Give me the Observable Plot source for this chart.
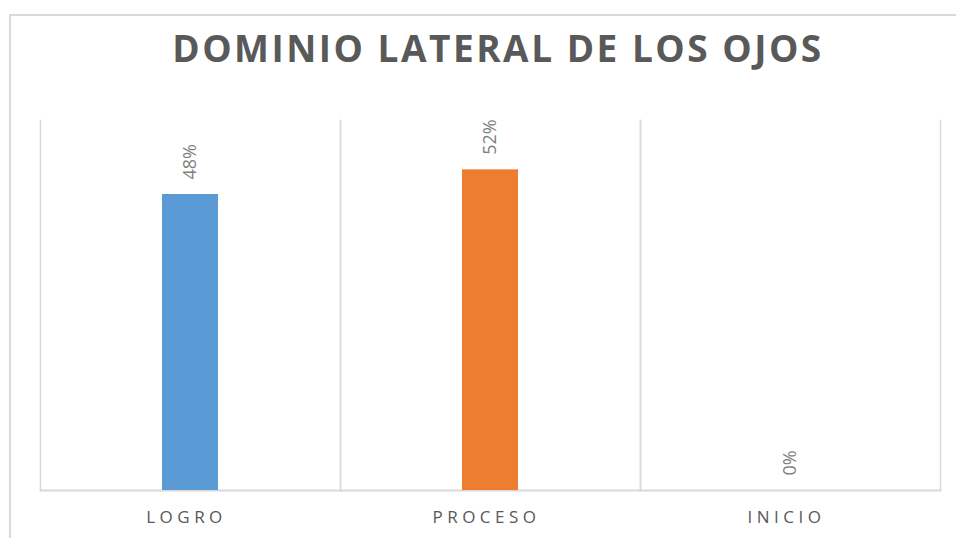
<!DOCTYPE html>
<html>
<head>
<meta charset="utf-8">
<script src="https://cdn.jsdelivr.net/npm/d3@7"></script>
<script src="https://cdn.jsdelivr.net/npm/@observablehq/plot@0.6"></script>
<style>
  html, body { margin: 0; padding: 0; background: #fff; overflow: hidden; }
  #wrap { position: relative; width: 956px; height: 538px; }
  #border { position: absolute; left: 9px; top: 14px; width: 1000px; height: 600px; border: 2px solid #d9d9d9; box-sizing: border-box; }
  #title { position: absolute; left: 0; width: 996px; top: 22px; text-align: center; font-family: "Open Sans", sans-serif; font-weight: 700; font-size: 37px; letter-spacing: 2.5px; color: #595959; }
  #chart { position: absolute; left: 0; top: 0; }
  .fxlab text { letter-spacing: 4.5px; }
</style>
</head>
<body>
<div id="wrap">
  <div id="border"></div>
  <div id="title">DOMINIO LATERAL DE LOS OJOS</div>
  <div id="chart"></div>
</div>
<script>
const categories = ["LOGRO", "PROCESO", "INICIO"];
const values = [0.48, 0.52, 0.0];
const labels = ["48%", "52%", "0%"];
const colors = ["#5B9BD5", "#ED7D31", "#A5A5A5"];

const data = categories.map((c, i) => ({category: c, value: values[i], label: labels[i], color: colors[i]}));

const chart = Plot.plot({
  width: 956,
  height: 538,
  marginLeft: 40,
  marginRight: 16,
  marginTop: 120,
  marginBottom: 48,
  style: {fontFamily: "Open Sans, sans-serif", background: "transparent", overflow: "visible"},
  fx: {domain: categories, padding: 0, label: null, axis: null},
  y: {domain: [0, 0.6], axis: null},
  color: {type: "identity"},
  marks: [
    Plot.frame({anchor: "left", stroke: "#d9d9d9", strokeWidth: 1.5, strokeOpacity: 1}),
    Plot.frame({anchor: "right", stroke: "#d9d9d9", strokeWidth: 1.5, strokeOpacity: 1}),
    Plot.frame({anchor: "bottom", stroke: "#d9d9d9", strokeWidth: 2, strokeOpacity: 1}),
    Plot.barY(data, {fx: "category", y: "value", fill: "color", insetLeft: 122, insetRight: 122}),
    Plot.text(data, {fx: "category", y: "value", text: "label", rotate: -90, textAnchor: "start", dy: -15, fill: "#7f7f7f", fontSize: 18}),
    Plot.axisFx({anchor: "bottom", label: null, tickSize: 0, tickPadding: 20, fontSize: 17, fill: "#595959", dx: -4, className: "fxlab"})
  ]
});

document.getElementById("chart").appendChild(chart);
</script>
</body>
</html>
